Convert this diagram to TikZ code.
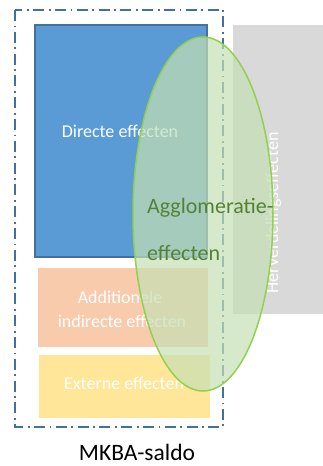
\documentclass[tikz,border=0pt]{standalone}
\usepackage{fontspec}
\setmainfont{Carlito}
\usetikzlibrary{shapes.geometric}
\definecolor{blueF}{HTML}{5B9BD5}
\definecolor{blueD}{HTML}{41719C}
\definecolor{orangeF}{HTML}{F8CBAD}
\definecolor{yellowF}{HTML}{FFE699}
\definecolor{greyF}{HTML}{D9D9D9}
\definecolor{greenF}{HTML}{C5E0B4}
\definecolor{greenL}{HTML}{92D050}
\definecolor{greenT}{HTML}{548235}
\tikzset{
  wtext/.style={text=white, font=\fontsize{18}{20}\selectfont, anchor=base, inner sep=0pt},
}
\begin{document}
\begin{tikzpicture}[x=1pt,y=-1pt]
\useasboundingbox (0,0) rectangle (323,466);
% grey box
\fill[greyF] (233,25) rectangle (323,314);
\node[text=white, font=\fontsize{18}{20}\selectfont, rotate=90, anchor=base, inner sep=0pt] (herv) at (278,213) {Herverdelingseffecten};
% frame
\draw[blueD, line width=2pt, dash pattern=on 11pt off 4.5pt on 1.8pt off 4.5pt] (15,10) rectangle (223,427);
% blue box
\draw[fill=blueF, draw=blueD, line width=1.5pt] (35,25) rectangle (207,257);
\node[wtext] (dir) at (120,137) {Directe effecten};
% orange
\fill[orangeF] (38,268) rectangle (208,347);
\node[wtext] (add1) at (120,303) {Additionele};
\node[wtext] (add2) at (122,327) {indirecte effecten};
% yellow
\fill[yellowF] (39,355) rectangle (210,418);
\node[wtext] (ext) at (124,389) {Externe effecten};
% ellipse
\node[ellipse, draw=greenL, line width=1.5pt, fill=greenF, fill opacity=0.7, minimum width=140pt, minimum height=354pt, inner sep=0pt] (ell) at (203,214) {};
\node[text=greenT, anchor=base west, inner sep=0pt, font=\fontsize{22}{26}\selectfont] (agg1) at (147,213) {Agglomeratie-};
\node[text=greenT, anchor=base west, inner sep=0pt, font=\fontsize{22}{26}\selectfont] (agg2) at (147,260) {effecten};
\node[anchor=base, inner sep=0pt, font=\fontsize{23.5}{26}\selectfont] (mkba) at (137,460) {MKBA-saldo};
\end{tikzpicture}
\end{document}
